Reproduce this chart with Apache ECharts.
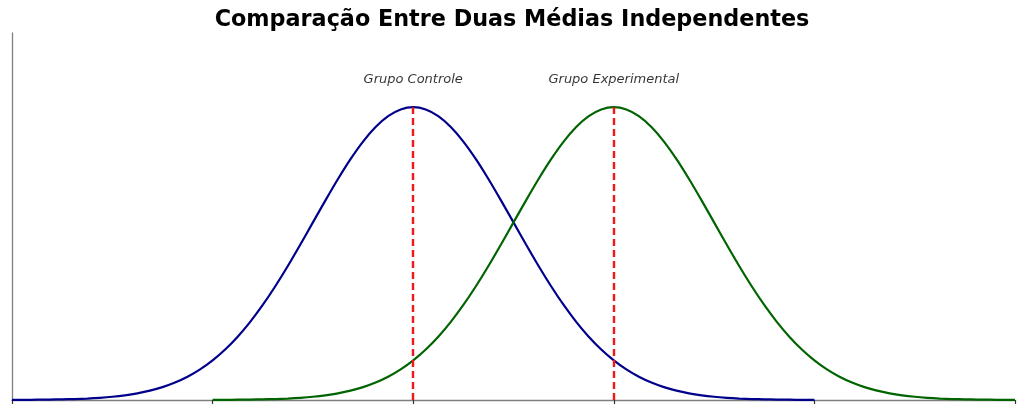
<!DOCTYPE html>
<html>
<head>
<meta charset="utf-8">
<script src="https://cdn.jsdelivr.net/npm/echarts@6/dist/echarts.min.js"></script>
<style>
  html, body { margin: 0; padding: 0; background: #fff; }
  #chart { width: 1024px; height: 412px; }
</style>
</head>
<body>
<div id="chart"></div>
<script>
// curves (density, one value per x step of 0.125)
var controlX = [-4, -3.875, -3.75, -3.625, -3.5, -3.375, -3.25, -3.125, -3, -2.875, -2.75, -2.625, -2.5, -2.375,
  -2.25, -2.125, -2, -1.875, -1.75, -1.625, -1.5, -1.375, -1.25, -1.125, -1, -0.875, -0.75, -0.625, -0.5, -0.375,
  -0.25, -0.125, 0, 0.125, 0.25, 0.375, 0.5, 0.625, 0.75, 0.875, 1, 1.125, 1.25, 1.375, 1.5, 1.625, 1.75, 1.875,
  2, 2.125, 2.25, 2.375, 2.5, 2.625, 2.75, 2.875, 3, 3.125, 3.25, 3.375, 3.5, 3.625, 3.75, 3.875, 4];
var controlY = [0.0001, 0.0002, 0.0004, 0.0006, 0.0009, 0.0013, 0.0020, 0.0030, 0.0044, 0.0064, 0.0091, 0.0127,
  0.0175, 0.0238, 0.0317, 0.0417, 0.0540, 0.0688, 0.0863, 0.1065, 0.1295, 0.1550, 0.1826, 0.2119, 0.2420, 0.2720,
  0.3011, 0.3282, 0.3521, 0.3719, 0.3867, 0.3958, 0.3989, 0.3958, 0.3867, 0.3719, 0.3521, 0.3282, 0.3011, 0.2720,
  0.2420, 0.2119, 0.1826, 0.1550, 0.1295, 0.1065, 0.0863, 0.0688, 0.0540, 0.0417, 0.0317, 0.0238, 0.0175, 0.0127,
  0.0091, 0.0064, 0.0044, 0.0030, 0.0020, 0.0013, 0.0009, 0.0006, 0.0004, 0.0002, 0.0001];

var experimentalX = [-2, -1.875, -1.75, -1.625, -1.5, -1.375, -1.25, -1.125, -1, -0.875, -0.75, -0.625, -0.5, -0.375,
  -0.25, -0.125, 0, 0.125, 0.25, 0.375, 0.5, 0.625, 0.75, 0.875, 1, 1.125, 1.25, 1.375, 1.5, 1.625, 1.75, 1.875,
  2, 2.125, 2.25, 2.375, 2.5, 2.625, 2.75, 2.875, 3, 3.125, 3.25, 3.375, 3.5, 3.625, 3.75, 3.875, 4, 4.125, 4.25,
  4.375, 4.5, 4.625, 4.75, 4.875, 5, 5.125, 5.25, 5.375, 5.5, 5.625, 5.75, 5.875, 6];
var experimentalY = [0.0001, 0.0002, 0.0004, 0.0006, 0.0009, 0.0013, 0.0020, 0.0030, 0.0044, 0.0064, 0.0091, 0.0127,
  0.0175, 0.0238, 0.0317, 0.0417, 0.0540, 0.0688, 0.0863, 0.1065, 0.1295, 0.1550, 0.1826, 0.2119, 0.2420, 0.2720,
  0.3011, 0.3282, 0.3521, 0.3719, 0.3867, 0.3958, 0.3989, 0.3958, 0.3867, 0.3719, 0.3521, 0.3282, 0.3011, 0.2720,
  0.2420, 0.2119, 0.1826, 0.1550, 0.1295, 0.1065, 0.0863, 0.0688, 0.0540, 0.0417, 0.0317, 0.0238, 0.0175, 0.0127,
  0.0091, 0.0064, 0.0044, 0.0030, 0.0020, 0.0013, 0.0009, 0.0006, 0.0004, 0.0002, 0.0001];

var groupNames = ['Grupo Controle', 'Grupo Experimental'];
var groupMeans = [0, 2];
var groupPeaks = [0.3989, 0.3989];
var labelY = 0.436;

function pairs(xs, ys) {
  return xs.map(function (x, i) { return [x, ys[i]]; });
}

var chart = echarts.init(document.getElementById('chart'));

var axisGrey = '#808080';

var option = {
  animation: false,
  title: {
    text: 'Comparação Entre Duas Médias Independentes',
    left: 'center',
    top: 4,
    textStyle: {
      fontFamily: 'DejaVu Sans',
      fontWeight: 'bold',
      fontSize: 22.3,
      color: '#000'
    }
  },
  grid: { left: 12, right: 9, top: 33, bottom: 12 },
  xAxis: {
    type: 'value',
    min: -4,
    max: 6,
    interval: 2,
    axisLine: { show: true, lineStyle: { color: axisGrey, width: 1.3 } },
    axisTick: { show: true, length: 4, lineStyle: { color: '#333', width: 1.2 } },
    axisLabel: { show: false },
    splitLine: { show: false }
  },
  yAxis: {
    type: 'value',
    min: 0,
    max: 0.5,
    axisLine: { show: true, onZero: false, lineStyle: { color: axisGrey, width: 1.3 } },
    axisTick: { show: false },
    axisLabel: { show: false },
    splitLine: { show: false }
  },
  series: [
    {
      name: groupNames[0],
      type: 'line',
      data: pairs(controlX, controlY),
      smooth: 0.3,
      showSymbol: false,
      lineStyle: { color: '#00008b', width: 2.2 },
      z: 3
    },
    {
      name: groupNames[1],
      type: 'line',
      data: pairs(experimentalX, experimentalY),
      smooth: 0.3,
      showSymbol: false,
      lineStyle: { color: '#006400', width: 2.2 },
      z: 3
    },
    {
      // dashed mean lines
      type: 'line',
      data: [],
      markLine: {
        symbol: 'none',
        silent: true,
        label: { show: false },
        lineStyle: { color: '#f01818', width: 2.4, type: [7, 4] },
        data: groupMeans.map(function (m, i) {
          return [{ coord: [m, 0] }, { coord: [m, groupPeaks[i]] }];
        })
      },
      z: 4
    },
    {
      type: 'scatter',
      symbolSize: 0,
      data: groupMeans.map(function (m, i) { return { value: [m, labelY], name: groupNames[i] }; }),
      label: {
        show: true,
        position: 'inside',
        formatter: '{b}',
        fontFamily: 'DejaVu Sans',
        fontStyle: 'italic',
        fontSize: 13,
        color: '#000'
      }
    }
  ]
};

chart.setOption(option);
</script>
</body>
</html>
